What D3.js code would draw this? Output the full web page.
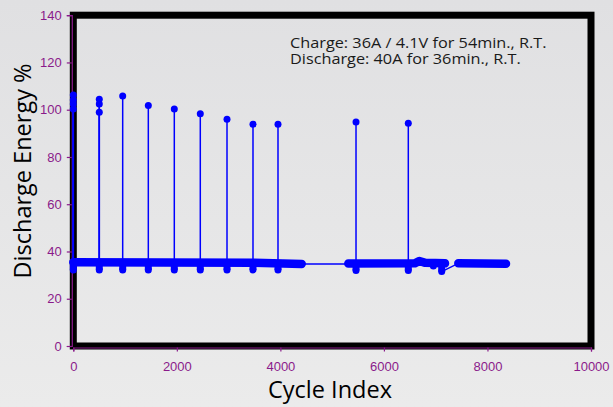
<!DOCTYPE html>
<html>
<head>
<meta charset="utf-8">
<script src="https://cdn.jsdelivr.net/npm/d3@7/dist/d3.min.js"></script>
<style>
  html, body { margin: 0; padding: 0; background: #e6e6e8; }
  svg { display: block; }
</style>
</head>
<body>
<div id="chart"></div>
<script>
// ---------------- data ----------------
const xTicks = [0, 2000, 4000, 6000, 8000, 10000];
const yTicks = [0, 20, 40, 60, 80, 100, 120, 140];

// high-energy check-up points (spikes)
const spikeCycles = [0, 0, 0, 0, 502, 502, 502, 954, 1449, 1951, 2453, 2969, 3471, 3954, 5461, 6471];
const spikeValues = [106.2, 104.1, 102.4, 100.3, 104.4, 102.4, 98.9, 105.8, 101.8, 100.3, 98.3, 96.0, 93.9, 93.9, 94.8, 94.3];

// low points right after each check-up
const dipCycles = [0, 502, 954, 1449, 1951, 2453, 2969, 3471, 3954, 5461, 6471, 6955, 7116];
const dipValues = [32.2, 32.2, 32.2, 32.2, 32.2, 32.2, 32.2, 32.2, 32.2, 32.0, 32.0, 33.9, 31.5];

// dense regular cycling (overlapping markers form a band)
const bandACycles = [0, 3500, 4412];
const bandAValues = [35.4, 35.2, 34.7];
const bandBCycles = [5312, 6600, 6684, 6800, 7180];
const bandBValues = [34.9, 35.0, 36.0, 35.2, 35.0];
const bandCCycles = [7437, 8358];
const bandCValues = [35.0, 34.8];

// thin connecting line segments across data gaps
const gap1Cycles = [4412, 5312];
const gap1Values = [34.7, 34.7];
const gap2Cycles = [7116, 7437];
const gap2Values = [31.5, 35.0];

const note = ["Charge: 36A / 4.1V for 54min., R.T.", "Discharge: 40A for 36min., R.T."];

// ---------------- chart ----------------
const W = 613, H = 407;
const svg = d3.select("#chart").append("svg").attr("width", W).attr("height", H);

const defs = svg.append("defs");
const grad = defs.append("linearGradient").attr("id", "bg").attr("x1", 0).attr("y1", 0).attr("x2", 0).attr("y2", 1);
grad.append("stop").attr("offset", "0%").attr("stop-color", "#e0e0e2");
grad.append("stop").attr("offset", "100%").attr("stop-color", "#ebebeb");
svg.append("rect").attr("width", W).attr("height", H).attr("fill", "url(#bg)");

const x = d3.scaleLinear().domain([0, 10000]).range([73.3, 591]);
const y = d3.scaleLinear().domain([0, 140]).range([346, 15.2]);

const purple = "#8a1a8a";
const blue = "#0000ff";

// black frame
svg.append("rect")
  .attr("x", x(0)).attr("y", y(140))
  .attr("width", x(10000) - x(0)).attr("height", y(0) - y(140))
  .attr("fill", "none").attr("stroke", "#000").attr("stroke-width", 7);

// axes
const gx = svg.append("g").attr("transform", `translate(0,${y(0) + 1.5})`)
  .call(d3.axisBottom(x).tickValues(xTicks).tickSize(4).tickPadding(10).tickFormat(d3.format("d")));
const gy = svg.append("g").attr("transform", `translate(${x(0) - 1.5},0)`)
  .call(d3.axisLeft(y).tickValues(yTicks).tickSize(5).tickPadding(5).tickFormat(d3.format("d")));
[gx, gy].forEach(g => {
  g.select(".domain").attr("stroke", purple).attr("stroke-width", 1.2);
  g.selectAll(".tick line").attr("stroke", purple).attr("stroke-width", 1.2);
  g.selectAll(".tick text").attr("fill", purple)
    .style("font-family", "'Liberation Sans', Arial, sans-serif").style("font-size", "13px");
});

// axis titles
svg.append("text")
  .attr("x", 330).attr("y", 398)
  .attr("text-anchor", "middle")
  .style("font-family", "'Open Sans', sans-serif").style("font-size", "23.5px")
  .attr("fill", "#000").text("Cycle Index");
svg.append("text")
  .attr("transform", `translate(31,171) rotate(-90)`)
  .attr("text-anchor", "middle")
  .style("font-family", "'Open Sans', sans-serif").style("font-size", "23.5px")
  .attr("fill", "#000").text("Discharge Energy %");

// annotation (slightly widened to match the original face)
const annG = svg.append("g").attr("transform", "translate(290,0) scale(1.085,1)");
const annStyle = t => t.style("font-family", "'Open Sans', sans-serif").style("font-size", "15px").attr("fill", "#1a1a1a");
annG.append("text").call(annStyle).attr("x", 0).attr("y", 48.5).text(note[0]);
annG.append("text").call(annStyle).attr("x", 0).attr("y", 64.5).text(note[1]);

// series
const line = d3.line().x(d => x(d[0])).y(d => y(d[1]));
const zip = (a, b) => a.map((v, i) => [v, b[i]]);

const plot = svg.append("g");

// thin gap connectors
[zip(gap1Cycles, gap1Values), zip(gap2Cycles, gap2Values)].forEach(pts => {
  plot.append("path").attr("d", line(pts)).attr("fill", "none")
    .attr("stroke", blue).attr("stroke-width", 1.3);
});

// stems from band to check-up points
const bandLevelAt = c => (c < 5000 ? 35.3 : 35.0);
spikeCycles.forEach((c, i) => {
  plot.append("line")
    .attr("x1", x(c)).attr("x2", x(c))
    .attr("y1", y(bandLevelAt(c))).attr("y2", y(spikeValues[i]))
    .attr("stroke", blue).attr("stroke-width", 1.5);
});

// dense bands
[zip(bandACycles, bandAValues), zip(bandBCycles, bandBValues), zip(bandCCycles, bandCValues)].forEach(pts => {
  plot.append("path").attr("d", line(pts)).attr("fill", "none")
    .attr("stroke", blue).attr("stroke-width", 8.5)
    .attr("stroke-linecap", "round").attr("stroke-linejoin", "round");
});

// markers
plot.selectAll("circle.spike").data(zip(spikeCycles, spikeValues)).enter()
  .append("circle").attr("class", "spike")
  .attr("cx", d => x(d[0])).attr("cy", d => y(d[1])).attr("r", 3.5).attr("fill", blue);
plot.selectAll("circle.dip").data(zip(dipCycles, dipValues)).enter()
  .append("circle").attr("class", "dip")
  .attr("cx", d => x(d[0])).attr("cy", d => y(d[1])).attr("r", 3.5).attr("fill", blue);
// joins between dips and band
dipCycles.forEach((c, i) => {
  plot.append("line")
    .attr("x1", x(c)).attr("x2", x(c))
    .attr("y1", y(dipValues[i])).attr("y2", y(bandLevelAt(c)))
    .attr("stroke", blue).attr("stroke-width", 7);
});
</script>
</body>
</html>
